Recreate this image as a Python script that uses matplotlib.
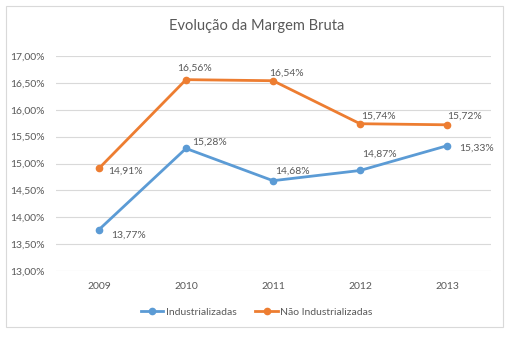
import matplotlib.pyplot as plt
from matplotlib.patches import Rectangle
from matplotlib.ticker import FuncFormatter

anos = ['2009', '2010', '2011', '2012', '2013']
industrializadas = [13.77, 15.28, 14.68, 14.87, 15.33]
nao_industrializadas = [14.91, 16.56, 16.54, 15.74, 15.72]

azul = '#5B9BD5'
laranja = '#ED7D31'
cinza = '#595959'

plt.rcParams['font.family'] = ['Lato', 'DejaVu Sans']

W, H = 513, 339
fig = plt.figure(figsize=(W / 100, H / 100), dpi=100)
fig.patches.append(Rectangle((6 / W, 1 - 327 / H), 497 / W, 321 / H,
                             transform=fig.transFigure, fill=False,
                             edgecolor='#D9D9D9', linewidth=0.8))

ax = fig.add_axes([55.5 / W, 1 - 271 / H, 435 / W, 215 / H])
x = range(len(anos))
ax.plot(x, industrializadas, color=azul, lw=2, marker='o', ms=4.5, label='Industrializadas')
ax.plot(x, nao_industrializadas, color=laranja, lw=2, marker='o', ms=4.5, label='Não Industrializadas')

fmt = lambda v: f'{v:.2f}%'.replace('.', ',')

# offsets em pixels para os rótulos
off_ind = [(12, -6), (6, 6), (2, 10), (2, 16), (12, -2)]
off_nao = [(9, -3), (-9, 11), (-4, 8), (1, 8), (0, 9)]
for i, v in enumerate(industrializadas):
    ax.annotate(fmt(v), (i, v), xytext=off_ind[i], textcoords='offset pixels',
                ha='left', va='center', fontsize=7.5, color=cinza)
for i, v in enumerate(nao_industrializadas):
    ax.annotate(fmt(v), (i, v), xytext=off_nao[i], textcoords='offset pixels',
                ha='left', va='center', fontsize=7.5, color=cinza)

ax.set_xlim(-0.5, 4.5)
ax.set_ylim(13, 17)
ax.set_yticks([13 + 0.5 * k for k in range(9)])
ax.yaxis.set_major_formatter(FuncFormatter(lambda v, p: fmt(v)))
ax.set_xticks(list(x))
ax.set_xticklabels(anos)
ax.grid(axis='y', color='#D9D9D9', lw=0.8)
ax.set_axisbelow(True)
for s in ax.spines.values():
    s.set_visible(False)
ax.tick_params(length=0, labelsize=7.5, colors=cinza, pad=8)

fig.text(0.5, 1 - 26 / H, 'Evolução da Margem Bruta', ha='center', va='center',
         fontsize=10.5, color=cinza)

fig.legend(loc='center', bbox_to_anchor=(0.5, 1 - 312 / H), ncol=2, frameon=False,
           fontsize=7.5, labelcolor=cinza, handlelength=2.2, handletextpad=0.2,
           columnspacing=1.8)

fig.savefig('out.png', dpi=100)
